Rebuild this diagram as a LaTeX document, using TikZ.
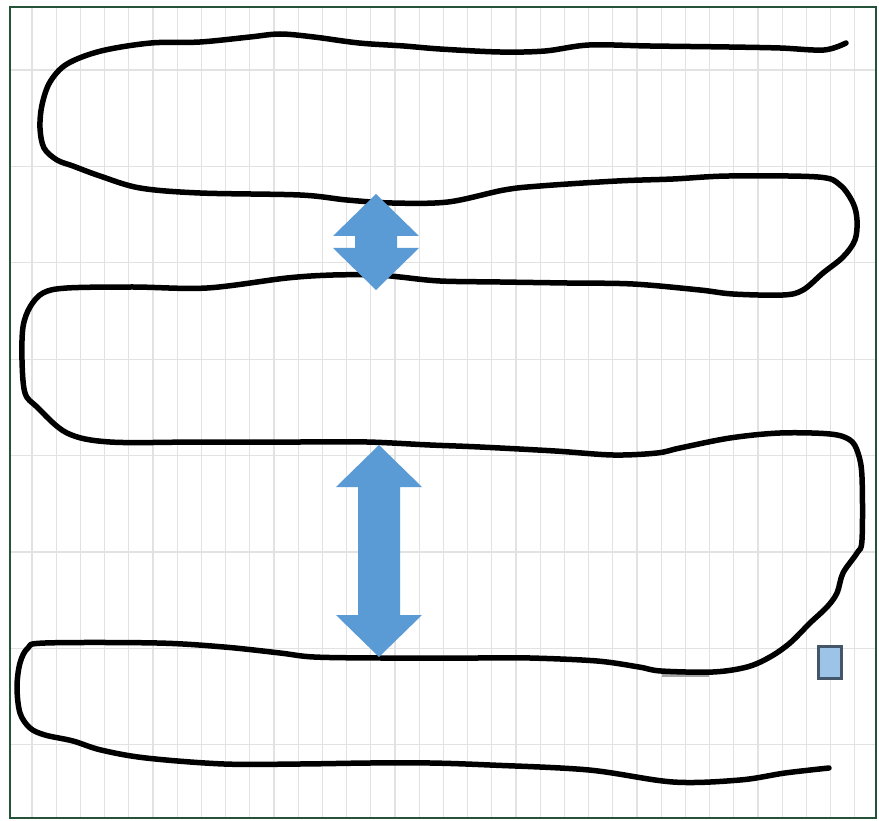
\documentclass[tikz,border=0pt]{standalone}
\usetikzlibrary{arrows.meta, calc}
\definecolor{FrameGreen}{HTML}{24533A}
\definecolor{GridGray}{HTML}{E2E2E2}
\definecolor{ArrowBlue}{HTML}{5B9BD5}
\definecolor{MarkFill}{HTML}{9DC3E6}
\definecolor{MarkEdge}{HTML}{44576A}
\tikzset{
  frame/.style={draw=FrameGreen, line width=2.5pt},
  gridline/.style={draw=GridGray, line width=1.3pt},
  sweep/.style={draw=black, line width=5.5pt, line cap=round, line join=round},
  stub/.style={draw=black!35, line width=3pt},
  updown/.style={fill=ArrowBlue},
  markbox/.style={draw=MarkEdge, line width=3pt, fill=MarkFill},
}

\begin{document}
\begin{tikzpicture}[x=1pt, y=-1pt]
  \useasboundingbox[fill=white] (0,0) rectangle (879,821);
  % grid
  \foreach \k in {0,...,34}
    \draw[gridline] ({32+24.2*\k},8) -- ({32+24.2*\k},817);
  \foreach \k in {0,...,7}
    \draw[gridline] (11,{70+96.4*\k}) -- (875,{70+96.4*\k});
  \draw[frame] (10,7) rectangle (876,818);
  % the serpentine path
  \draw[stub] (662,675) -- (709,675);
  \draw[sweep] plot[smooth, tension=0.55] coordinates {
    (846,43) (824,50) (780,48) (729,47) (650,46) (589,45) (545,51)
    (500,52) (440,49) (404,46) (359,43) (314,37) (280,34) (250,37) (200,42)
    (151,43) (101,51) (67,64) (50,82) (42,105) (40,128) (44,148) (57,160)
    (73,166) (100,176) (140,188) (200,193) (300,195) (347,200) (392,203)
    (448,202) (504,190) (540,186) (617,181) (673,179) (729,176) (818,177)
    (840,185) (853,203) (857,220) (855,240) (843,257) (823,273) (803,290)
    (783,295) (733,294) (700,290) (633,284) (567,283) (500,282) (440,281)
    (400,277) (377,275) (333,275) (287,278) (207,288) (133,287) (67,288)
    (43,293) (30,307) (23,327) (22,360) (25,393) (37,407) (67,433) (110,442)
    (200,442) (300,442) (367,442) (430,445) (480,447) (555,451)
    (613,455) (657,453) (680,448) (730,438) (780,433) (830,434) (850,440)
    (858,453) (862,477) (862,540) (857,553) (843,573) (837,593) (827,607)
    (810,623) (790,643) (770,657) (747,667) (713,672) (661,671) (639,667)
    (597,661) (530,658) (476,658) (381,658) (314,657) (280,653) (224,647)
    (157,643) (45,643) (28,648) (20,663) (17,687) (20,713) (30,728) (45,735)
    (73,741) (101,750) (146,758) (224,764) (300,764) (370,763) (430,763)
    (490,765) (589,770) (673,782) (740,780) (785,773) (829,768)};
  % double arrows
  \foreach \xc/\ya/\yb in {376/194/290, 379/445/657}
    \fill[updown] (\xc,\ya) -- ({\xc+43},{\ya+42}) -- ({\xc+21},{\ya+42})
      -- ({\xc+21},{\yb-42}) -- ({\xc+43},{\yb-42}) -- (\xc,\yb)
      -- ({\xc-43},{\yb-42}) -- ({\xc-21},{\yb-42}) -- ({\xc-21},{\ya+42})
      -- ({\xc-43},{\ya+42}) -- cycle;
  \draw[markbox] (818,646) rectangle (841,678);
\end{tikzpicture}
\end{document}
